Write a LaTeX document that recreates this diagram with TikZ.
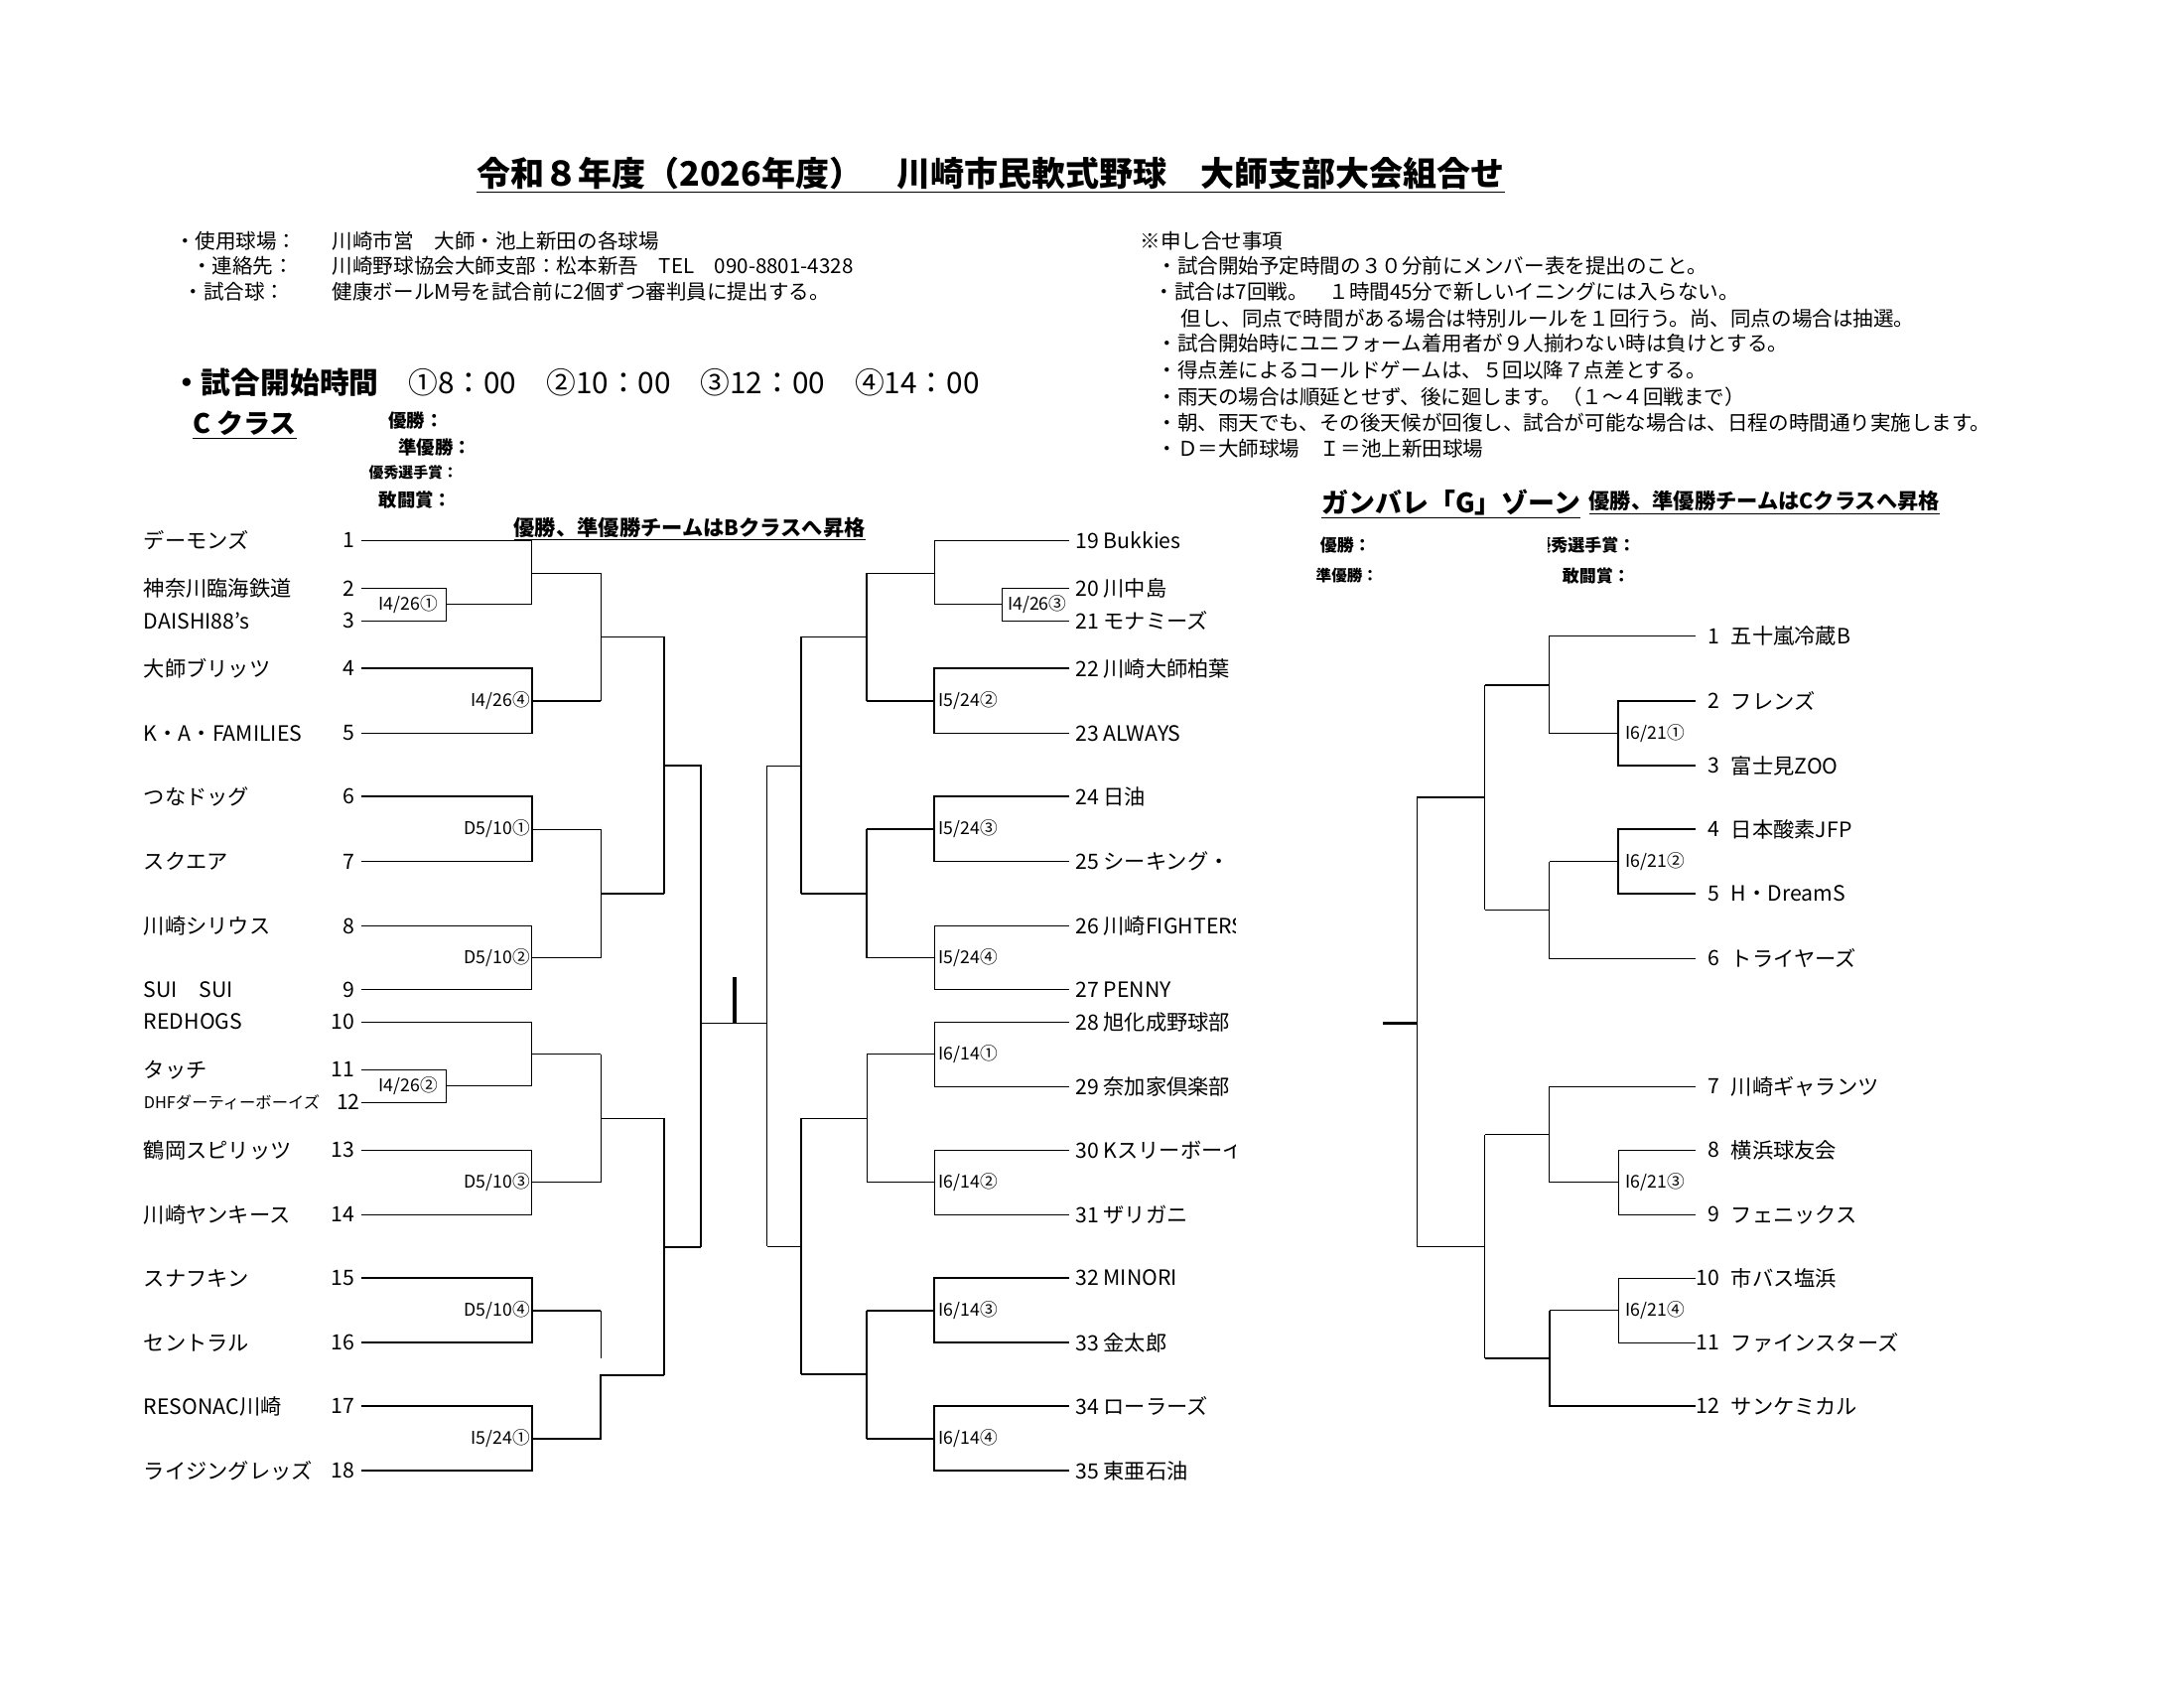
\documentclass[tikz,border=0pt]{standalone}
\usepackage{fontspec}
\setmainfont{Noto Sans CJK JP}
\begin{document}
\begin{tikzpicture}[x=1pt,y=-1pt,
% common options for texts:
team/.style = {anchor=west, inner sep=0, font=\fontsize{15}{17}\selectfont},
num/.style = {anchor=east, inner sep=0, font=\fontsize{15}{17}\selectfont},
info/.style = {anchor=west, inner sep=0, font=\fontsize{14.5}{16}\selectfont},
date/.style = {inner sep=0, font=\fontsize{12.5}{14}\selectfont},
head/.style = {anchor=west, inner sep=0, font=\bfseries\fontsize{13}{15}\selectfont},
% common options for the lines:
thin/.style = {line width=0.6pt},
thk/.style = {line width=1.3pt}]
\useasboundingbox (0,0) rectangle (1552,1200);
% title and notes
\node[inner sep=1pt,font=\bfseries\fontsize{24}{28}\selectfont] (title) at (704,124) {\underline{令和８年度（2026年度）　川崎市民軟式野球　大師支部大会組合せ}};
\node[info] (i1) at (124,171) {・使用球場：};
\node[info] (i2) at (136,189) {・連絡先：};
\node[info] (i3) at (130,207) {・試合球：};
\node[info] (j1) at (236,171) {川崎市営　大師・池上新田の各球場};
\node[info] (j2) at (236,189) {川崎野球協会大師支部：松本新吾　TEL　090-8801-4328};
\node[info] (j3) at (236,207) {健康ボールM号を試合前に2個ずつ審判員に提出する。};
\node[info] (n0) at (810,171) {※申し合せ事項};
\node[info] (n1) at (822,189) {・試合開始予定時間の３０分前にメンバー表を提出のこと。};
\node[info] (n2) at (820,207) {・試合は7回戦。　１時間45分で新しいイニングには入らない。};
\node[info] (n3) at (839,226) {但し、同点で時間がある場合は特別ルールを１回行う。尚、同点の場合は抽選。};
\node[info] (n4) at (822,244) {・試合開始時にユニフォーム着用者が９人揃わない時は負けとする。};
\node[info] (n5) at (822,263) {・得点差によるコールドゲームは、５回以降７点差とする。};
\node[info] (n6) at (822,282) {・雨天の場合は順延とせず、後に廻します。（１～４回戦まで）};
\node[info] (n7) at (822,300) {・朝、雨天でも、その後天候が回復し、試合が可能な場合は、日程の時間通り実施します。};
\begin{scope}
\clip (815,308) rectangle (1055,332);
\node[info] (n8) at (822,319) {・Ｄ＝大師球場　Ｉ＝池上新田球場};
\end{scope}
\node[anchor=west,inner sep=0,font=\fontsize{21}{24}\selectfont] (time) at (122,272) {\textbf{・試合開始時間}　①8：00　②10：00　③12：00　④14：00};
% C class
\node[anchor=west,inner sep=1pt,font=\bfseries\fontsize{19}{22}\selectfont] (cls) at (136,302) {\underline{C クラス}};
\node[head] (a1) at (276,299) {優勝：};
\node[head] (a2) at (283,318) {準優勝：};
\node[head,font=\bfseries\fontsize{10.5}{12}\selectfont] (a3) at (262,336) {優秀選手賞：};
\node[head] (a4) at (269,355) {敢闘賞：};
\node[anchor=west,inner sep=1pt,font=\bfseries\fontsize{15}{17}\selectfont] (up1) at (364,376) {\underline{優勝、準優勝チームはBクラスへ昇格}};
\begin{scope}[yshift=3pt]
% left teams
\foreach \n/\y/\t in {1/387/デーモンズ, 2/421/神奈川臨海鉄道, 3/444/DAISHI88’s, 4/478/大師ブリッツ,
  5/524/K・A・FAMILIES, 6/569/つなドッグ, 7/615/スクエア, 8/661/川崎シリウス, 9/706/SUI　SUI,
  10/729/REDHOGS, 11/763/タッチ, 13/820/鶴岡スピリッツ, 14/866/川崎ヤンキース,
  15/911/スナフキン, 16/957/セントラル, 17/1002/RESONAC川崎, 18/1048/ライジングレッズ}
  {\node[team] (t\n) at (102,\y) {\t};
   \node[num] (k\n) at (252,\y) {\n};}
\node[team,font=\fontsize{11.5}{13}\selectfont] (t12) at (102,786) {DHFダーティーボーイズ};
\node[num] (k12) at (256,786) {12};
% right teams
\begin{scope}
\clip (755,370) rectangle (878,1065);
\foreach \n/\y/\t in {19/387/Bukkies, 20/421/川中島, 21/444/モナミーズ, 22/478/川崎大師柏葉,
  23/524/ALWAYS, 24/569/日油, 25/615/シーキング・, 26/661/川崎FIGHTERS, 27/706/PENNY,
  28/729/旭化成野球部, 29/775/奈加家倶楽部, 30/820/Kスリーボーイズ, 31/866/ザリガニ,
  32/911/MINORI, 33/957/金太郎, 34/1002/ローラーズ, 35/1048/東亜石油}
  {\node[team] (t\n) at (764,\y) {\n\ \t};}
\end{scope}
% left bracket
\draw[thin] (257,387) -- (378,387) -- (378,432.5);
\draw[thin] (257,421) -- (317,421) -- (317,444) -- (257,444);
\draw[thin] (317,432.5) -- (378,432.5);
\node[date] (d1) at (290,432.5) {I4/26①};
\draw[thin] (378,410) -- (427,410);
\draw[thk] (257,478) -- (378,478) -- (378,524) -- (257,524);
\draw[thk] (378,501) -- (427,501);
\node[date,anchor=east] (d4) at (377,501) {I4/26④};
\draw[thin] (427,410) -- (427,501);
\draw[thk] (427,455.5) -- (472,455.5);
\draw[thk] (257,569) -- (378,569) -- (378,615) -- (257,615);
\node[date,anchor=east] (d5) at (377,592) {D5/10①};
\draw[thin] (378,592) -- (427,592);
\draw[thin] (257,661) -- (378,661) -- (378,706) -- (257,706);
\node[date,anchor=east] (d6) at (377,683.5) {D5/10②};
\draw[thin] (378,683.5) -- (427,683.5);
\draw[thin] (427,592) -- (427,683.5);
\draw[thk] (427,638) -- (472,638);
\draw[thk] (472,455.5) -- (472,638);
\draw[thk] (472,547) -- (498,547) -- (498,889);
\draw[thin] (257,729) -- (378,729) -- (378,774.5);
\draw[thin] (257,763) -- (317,763) -- (317,786) -- (257,786);
\draw[thin] (317,774.5) -- (378,774.5);
\node[date] (d2) at (290,774.5) {I4/26②};
\draw[thin] (378,752) -- (427,752);
\draw[thin] (257,820) -- (378,820) -- (378,866) -- (257,866);
\node[date,anchor=east] (d7) at (377,843) {D5/10③};
\draw[thin] (378,843) -- (427,843);
\draw[thin] (427,752) -- (427,843);
\draw[thin] (427,797.5) -- (472,797.5);
\draw[thk] (257,911) -- (378,911) -- (378,957) -- (257,957);
\node[date,anchor=east] (d8) at (377,934) {D5/10④};
\draw[thk] (378,934) -- (427,934);
\draw[thin] (427,934) -- (427,968);
\draw[thk] (257,1002) -- (378,1002) -- (378,1048) -- (257,1048);
\node[date,anchor=east] (d9) at (377,1025) {I5/24①};
\draw[thk] (378,1025) -- (427,1025) -- (427,980) -- (472,980);
\draw[thk] (472,797.5) -- (472,980);
\draw[thk] (472,889) -- (498,889);
% final
\draw[thin] (498,730) -- (545,730);
\draw[line width=2.5pt] (522,697) -- (522,730);
% right bracket
\draw[thin] (760,387) -- (664,387) -- (664,432.5);
\draw[thin] (760,421) -- (712,421) -- (712,444) -- (760,444);
\draw[thin] (712,432.5) -- (664,432.5);
\node[date] (d10) at (737,432.5) {I4/26③};
\draw[thin] (664,410) -- (616,410);
\draw[thk] (760,478) -- (664,478) -- (664,524) -- (760,524);
\node[date,anchor=west] (d11) at (667,501) {I5/24②};
\draw[thk] (664,501) -- (616,501);
\draw[thk] (616,410) -- (616,501);
\draw[thk] (616,455.5) -- (569,455.5);
\draw[thk] (760,569) -- (664,569) -- (664,615) -- (760,615);
\node[date,anchor=west] (d12) at (667,592) {I5/24③};
\draw[thk] (664,592) -- (616,592);
\draw[thin] (760,661) -- (664,661) -- (664,706) -- (760,706);
\node[date,anchor=west] (d13) at (667,683.5) {I5/24④};
\draw[thin] (664,683.5) -- (616,683.5);
\draw[thk] (616,592) -- (616,683.5);
\draw[thk] (616,638) -- (569,638);
\draw[thk] (569,455.5) -- (569,638);
\draw[thin] (569,547) -- (545,547) -- (545,888.5);
\draw[thin] (760,729) -- (664,729) -- (664,775) -- (760,775);
\node[date,anchor=west] (d14) at (667,752) {I6/14①};
\draw[thin] (664,752) -- (616,752);
\draw[thin] (760,820) -- (664,820) -- (664,866) -- (760,866);
\node[date,anchor=west] (d15) at (667,843) {I6/14②};
\draw[thin] (664,843) -- (616,843);
\draw[thin] (616,752) -- (616,843);
\draw[thin] (616,797.5) -- (569,797.5);
\draw[thk] (760,911) -- (664,911) -- (664,957) -- (760,957);
\node[date,anchor=west] (d16) at (667,934) {I6/14③};
\draw[thk] (664,934) -- (616,934);
\draw[thk] (760,1002) -- (664,1002) -- (664,1048) -- (760,1048);
\node[date,anchor=west] (d17) at (667,1025) {I6/14④};
\draw[thk] (664,1025) -- (616,1025);
\draw[thk] (616,934) -- (616,1025);
\draw[thk] (616,979.5) -- (569,979.5);
\draw[thk] (569,797.5) -- (569,979.5);
\draw[thin] (569,888.5) -- (545,888.5);
\end{scope}
% G zone
\node[anchor=west,inner sep=1pt,font=\bfseries\fontsize{19}{22}\selectfont] (gz) at (938,358) {\underline{ガンバレ「G」ゾーン}};
\node[anchor=west,inner sep=1pt,font=\bfseries\fontsize{15}{17}\selectfont] (up2) at (1128,357) {\underline{優勝、準優勝チームはCクラスへ昇格}};
\node[head,font=\bfseries\fontsize{12}{14}\selectfont] (b1) at (938,387) {優勝：};
\node[head,font=\bfseries\fontsize{11}{13}\selectfont] (b2) at (935,409) {準優勝：};
\begin{scope}
\clip (1100,375) rectangle (1200,400);
\node[head,font=\bfseries\fontsize{12}{14}\selectfont] (b3) at (1090,387) {優秀選手賞：};
\end{scope}
\node[head,font=\bfseries\fontsize{12}{14}\selectfont] (b4) at (1110,409) {敢闘賞：};
\begin{scope}[yshift=3pt]
\foreach \n/\y/\t in {1/455/五十嵐冷蔵B, 2/501/フレンズ, 3/547/富士見ZOO, 4/592/日本酸素JFP,
  5/638/H・DreamS, 6/684/トライヤーズ, 7/775/川崎ギャランツ, 8/820/横浜球友会,
  9/866/フェニックス, 10/911/市バス塩浜, 11/957/ファインスターズ, 12/1002/サンケミカル}
  {\node[num] (g\n) at (1222,\y) {\n};
   \node[team] (h\n) at (1230,\y) {\t};}
\draw[thin] (1205,455) -- (1101,455) -- (1101,524);
\draw[thk] (1205,501) -- (1150,501) -- (1150,547) -- (1205,547);
\node[date,anchor=west] (e1) at (1155,524) {I6/21①};
\draw[thk] (1150,524) -- (1101,524);
\draw[thk] (1101,489.5) -- (1055,489.5);
\draw[thk] (1205,592) -- (1150,592) -- (1150,638) -- (1205,638);
\node[date,anchor=west] (e2) at (1155,615) {I6/21②};
\draw[thk] (1150,615) -- (1101,615);
\draw[thin] (1101,615) -- (1101,684) -- (1205,684);
\draw[thin] (1101,649.5) -- (1055,649.5);
\draw[thk] (1055,489.5) -- (1055,649.5);
\draw[thk] (1055,569.5) -- (1007,569.5);
\draw[thin] (1205,775) -- (1101,775) -- (1101,843);
\draw[thin] (1205,820) -- (1150,820) -- (1150,866) -- (1205,866);
\node[date,anchor=west] (e3) at (1155,843) {I6/21③};
\draw[thin] (1150,843) -- (1101,843);
\draw[thin] (1101,809) -- (1055,809);
\draw[thin] (1205,911) -- (1150,911) -- (1150,957) -- (1205,957);
\node[date,anchor=west] (e4) at (1155,934) {I6/21④};
\draw[thin] (1150,934) -- (1101,934);
\draw[thk] (1101,934) -- (1101,1002) -- (1205,1002);
\draw[thk] (1101,968) -- (1055,968);
\draw[thk] (1055,809) -- (1055,968);
\draw[thin] (1055,888.5) -- (1007,888.5);
\draw[thin] (1007,569.5) -- (1007,888.5);
\draw[line width=2.5pt] (983,730) -- (1007,730);
\end{scope}
\end{tikzpicture}
\end{document}
